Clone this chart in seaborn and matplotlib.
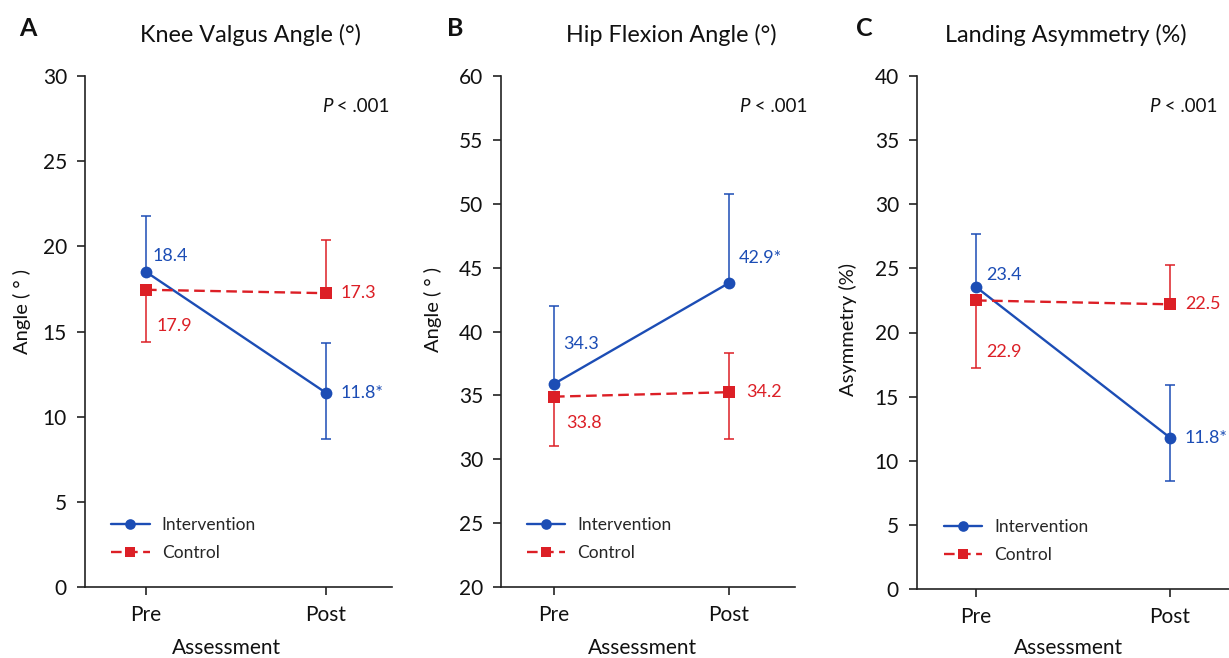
import numpy as np
import pandas as pd
import matplotlib.pyplot as plt
import seaborn as sns

sns.set_style("ticks")
plt.rcParams['font.family'] = ['Lato', 'DejaVu Sans']

W, H = 1229, 658
nan = np.nan

# ---- data ----
timepoints = ["Pre", "Post"]
groups = ["Intervention", "Control"]

titles = ["Knee Valgus Angle (°)", "Hip Flexion Angle (°)", "Landing Asymmetry (%)"]
letters = ["A", "B", "C"]
y_labels = ["Angle ( ° )", "Angle ( ° )", "Asymmetry (%)"]
y_limits = [(0, 30), (20, 60), (0, 40)]
p_value = "< .001"

knee_int = [18.5, 11.4]
knee_ctrl = [17.45, 17.25]
hip_int = [35.9, 43.8]
hip_ctrl = [34.9, 35.25]
asym_int = [23.55, 11.8]
asym_ctrl = [22.5, 22.2]

# error bar lengths above / below the mean (nan = not drawn)
knee_int_up, knee_int_dn = [3.3, 2.95], [nan, 2.7]
knee_ctrl_up, knee_ctrl_dn = [nan, 3.15], [3.05, nan]
hip_int_up, hip_int_dn = [6.1, 7.0], [nan, nan]
hip_ctrl_up, hip_ctrl_dn = [nan, 3.05], [3.9, 3.65]
asym_int_up, asym_int_dn = [4.1, 4.1], [nan, 3.35]
asym_ctrl_up, asym_ctrl_dn = [nan, 3.1], [5.3, nan]

# printed value labels
knee_int_lbl, knee_ctrl_lbl = ["18.4", "11.8*"], ["17.9", "17.3"]
hip_int_lbl, hip_ctrl_lbl = ["34.3", "42.9*"], ["33.8", "34.2"]
asym_int_lbl, asym_ctrl_lbl = ["23.4", "11.8*"], ["22.9", "22.5"]

panels = [
    (knee_int, knee_ctrl, knee_int_up, knee_int_dn, knee_ctrl_up, knee_ctrl_dn, knee_int_lbl, knee_ctrl_lbl),
    (hip_int, hip_ctrl, hip_int_up, hip_int_dn, hip_ctrl_up, hip_ctrl_dn, hip_int_lbl, hip_ctrl_lbl),
    (asym_int, asym_ctrl, asym_int_up, asym_int_dn, asym_ctrl_up, asym_ctrl_dn, asym_int_lbl, asym_ctrl_lbl),
]

# ---- layout (pixels) ----
# left, right, top, bottom of axes, x pixel of Pre and Post
axes_px = [(85, 392, 76, 587, 146, 326),
           (501, 795, 76, 587, 554, 729),
           (917, 1237, 76, 589, 976, 1170)]
title_x = [250, 671, 1066]
letter_x = [28, 455, 864]
p_right = [390, 807, 1217]
ylab_pos = [(22, 312), (433, 310), (848, 330)]
xlab_x = [227, 642, 1069]
# label offsets in pixels (dx, dy up) for [Pre, Post]
int_off = [[(7, 16), (15, 0)], [(9, 40), (10, 25)], [(10, 12), (15, 0)]]
ctrl_off = [[(11, -36), (15, 0)], [(12, -26), (17, 0)], [(10, -52), (15, 0)]]

BLUE = "#1c4db5"
RED = "#dc1f26"
INK = "#111111"
colors = {"Intervention": BLUE, "Control": RED}


def fx(x):
    return x / W


def fy(y):
    return 1 - y / H


def draw_bars(ax, y, up, dn, color):
    # one call per direction so a missing side leaves no cap
    for k in range(2):
        for err, sign in ((up[k], 1), (dn[k], -1)):
            if np.isnan(err):
                continue
            yerr = [[0], [err]] if sign > 0 else [[err], [0]]
            eb = ax.errorbar([k], [y[k]], yerr=yerr, fmt="none", ecolor=color,
                             elinewidth=1.1, capsize=3.3, capthick=1.1, zorder=2)
            # drop the cap sitting on the marker
            caps = eb.lines[1]
            if len(caps) == 2:
                (caps[0] if sign > 0 else caps[1]).set_visible(False)


fig = plt.figure(figsize=(W / 100, H / 100), dpi=100)
fig.patch.set_facecolor("white")

for i, (iv, cv, iu, idn, cu, cdn, ilb, clb) in enumerate(panels):
    l, r, t, b, xpre, xpost = axes_px[i]
    ax = fig.add_axes([fx(l), fy(b), (r - l) / W, (b - t) / H])
    ax.set_facecolor("white")

    df = pd.DataFrame({
        "x": [0, 1, 0, 1],
        "y": iv + cv,
        "group": ["Intervention"] * 2 + ["Control"] * 2,
    })

    draw_bars(ax, cv, cu, cdn, RED)
    draw_bars(ax, iv, iu, idn, BLUE)

    sns.lineplot(data=df, x="x", y="y", hue="group", style="group",
                 hue_order=groups, style_order=groups, palette=colors,
                 markers={"Intervention": "o", "Control": "s"},
                 dashes={"Intervention": "", "Control": (4.5, 2.3)},
                 markersize=8.5, markeredgewidth=0, linewidth=1.7,
                 ax=ax, zorder=3)

    span = xpost - xpre
    ax.set_xlim(-(xpre - l) / span, (r - xpre) / span)
    ax.set_ylim(*y_limits[i])
    lo, hi = y_limits[i]
    ax.set_yticks(np.arange(lo, hi + 1, 5))
    ax.set_xticks([0, 1])
    ax.set_xticklabels(timepoints)
    ax.set_xlabel("")
    ax.set_ylabel("")

    for side in ["top", "right"]:
        ax.spines[side].set_visible(False)
    for side in ["left", "bottom"]:
        ax.spines[side].set_color("#222222")
        ax.spines[side].set_linewidth(1.2)
    ax.tick_params(axis="both", direction="out", length=6, width=1.2,
                   color="#222222", labelsize=15, labelcolor=INK, pad=7)

    # value labels
    for j in range(2):
        dx, dy = int_off[i][j]
        ax.annotate(ilb[j], xy=(j, iv[j]), xytext=(dx * 0.72, dy * 0.72),
                    textcoords="offset points", ha="left", va="center",
                    color=BLUE, fontsize=13)
        dx, dy = ctrl_off[i][j]
        ax.annotate(clb[j], xy=(j, cv[j]), xytext=(dx * 0.72, dy * 0.72),
                    textcoords="offset points", ha="left", va="center",
                    color=RED, fontsize=13)

    handles, labels = ax.get_legend_handles_labels()
    ax.legend(handles, labels, loc="lower left", frameon=False, fontsize=12.5,
              bbox_to_anchor=(0.035, 0.02), handlelength=2.2, handletextpad=0.7,
              labelspacing=0.7, markerscale=0.9)

    # titles, letters, axis labels, p value
    fig.text(fx(title_x[i]), fy(35), titles[i], ha="center", va="center",
             fontsize=16.8, color=INK)
    fig.text(fx(letter_x[i]), fy(29), letters[i], ha="center", va="center",
             fontsize=18, fontweight="bold", color=INK)
    fig.text(fx(ylab_pos[i][0]), fy(ylab_pos[i][1]), y_labels[i], rotation=90,
             ha="center", va="center", fontsize=14.5, color=INK)
    fig.text(fx(xlab_x[i]), fy(648), "Assessment", ha="center", va="center",
             fontsize=15, color=INK)
    pt = fig.text(fx(p_right[i]), fy(107), " " + p_value, ha="right", va="center",
                  fontsize=13.5, color=INK)
    ax.annotate("P", xy=(0, 0.5), xycoords=pt, ha="right", va="center",
                fontsize=13.5, fontstyle="italic", color=INK,
                annotation_clip=False)

fig.savefig("out.png", dpi=100, facecolor="white")
